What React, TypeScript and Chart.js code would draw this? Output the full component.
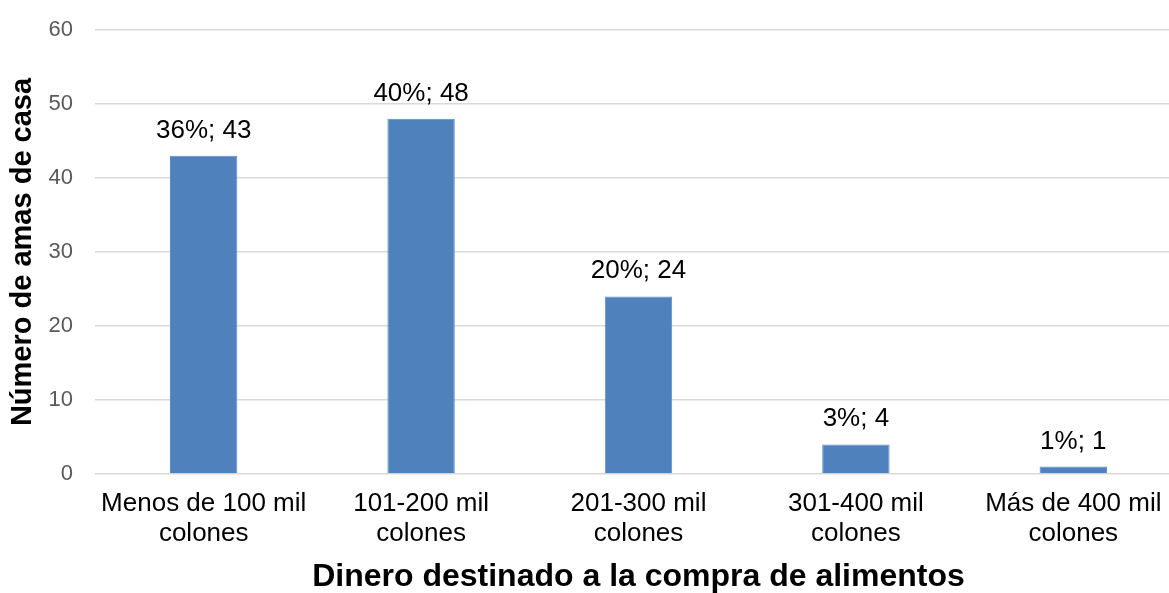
import React, { useEffect, useRef } from "react";
import { Chart, registerables } from "chart.js";

Chart.register(...registerables);

const categories: string[][] = [
  ["Menos de 100 mil", "colones"],
  ["101-200 mil", "colones"],
  ["201-300 mil", "colones"],
  ["301-400 mil", "colones"],
  ["Más de 400 mil", "colones"],
];
const counts: number[] = [43, 48, 24, 4, 1];
const percents: number[] = [36, 40, 20, 3, 1];
const yTicks: number[] = [0, 10, 20, 30, 40, 50, 60];

const FONT = "'Liberation Sans', Arial, Helvetica, sans-serif";

// Writes "pct%; count" above each bar
const barLabels = {
  id: "barLabels",
  afterDatasetsDraw(chart: any) {
    const ctx = chart.ctx;
    const meta = chart.getDatasetMeta(0);
    ctx.save();
    ctx.font = `26px ${FONT}`;
    ctx.fillStyle = "#000000";
    ctx.textAlign = "center";
    ctx.textBaseline = "alphabetic";
    meta.data.forEach((bar: any, i: number) => {
      ctx.fillText(`${percents[i]}%; ${counts[i]}`, bar.x, bar.y - 18);
    });
    ctx.restore();
  },
};

export default function App() {
  const canvasRef = useRef<HTMLCanvasElement | null>(null);

  useEffect(() => {
    document.body.style.overflow = "hidden";
    const canvas = canvasRef.current;
    if (!canvas) return;
    const chart = new Chart(canvas, {
      type: "bar",
      data: {
        labels: categories,
        datasets: [
          {
            data: counts,
            backgroundColor: "#4F81BD",
            borderColor: "#5B8CC6",
            borderWidth: 1,
            barPercentage: 0.31,
            categoryPercentage: 1,
          },
        ],
      },
      options: {
        animation: false,
        responsive: false,
        maintainAspectRatio: false,
        layout: { padding: { top: 30, right: 8, bottom: 0, left: 0 } },
        plugins: {
          legend: { display: false },
          tooltip: { enabled: false },
        },
        scales: {
          x: {
            grid: { display: false, drawTicks: false },
            border: { display: false },
            ticks: {
              color: "#000000",
              font: { family: FONT, size: 26, lineHeight: 1.15 },
              padding: 15,
              maxRotation: 0,
              autoSkip: false,
            },
            title: {
              display: true,
              text: "Dinero destinado a la compra de alimentos",
              color: "#000000",
              font: { family: FONT, size: 32, weight: "bold", lineHeight: 1 },
              padding: { top: 0, bottom: 0 },
            },
            afterFit(scale: any) {
              scale.height = 119;
            },
          },
          y: {
            min: 0,
            max: 60,
            afterBuildTicks(scale: any) {
              scale.ticks = yTicks.map((v) => ({ value: v }));
            },
            grid: { color: "#D9D9D9", lineWidth: 1.6, drawTicks: false },
            border: { display: false },
            ticks: {
              color: "#595959",
              font: { family: FONT, size: 22 },
              padding: 22,
            },
            title: {
              display: true,
              text: "Número de amas de casa",
              color: "#000000",
              font: { family: FONT, size: 29, weight: "bold", lineHeight: 1.2 },
              padding: { top: 6, bottom: 0 },
            },
            afterFit(scale: any) {
              scale.width = 95;
              scale.paddingTop = 0;
              scale.paddingBottom = 0;
            },
          },
        },
      },
      plugins: [barLabels],
    });
    return () => chart.destroy();
  }, []);

  return (
    <div style={{ position: "fixed", left: 0, top: 0, width: 1190, height: 593, background: "#ffffff" }}>
      <canvas ref={canvasRef} width={1190} height={593} style={{ display: "block" }} />
    </div>
  );
}
